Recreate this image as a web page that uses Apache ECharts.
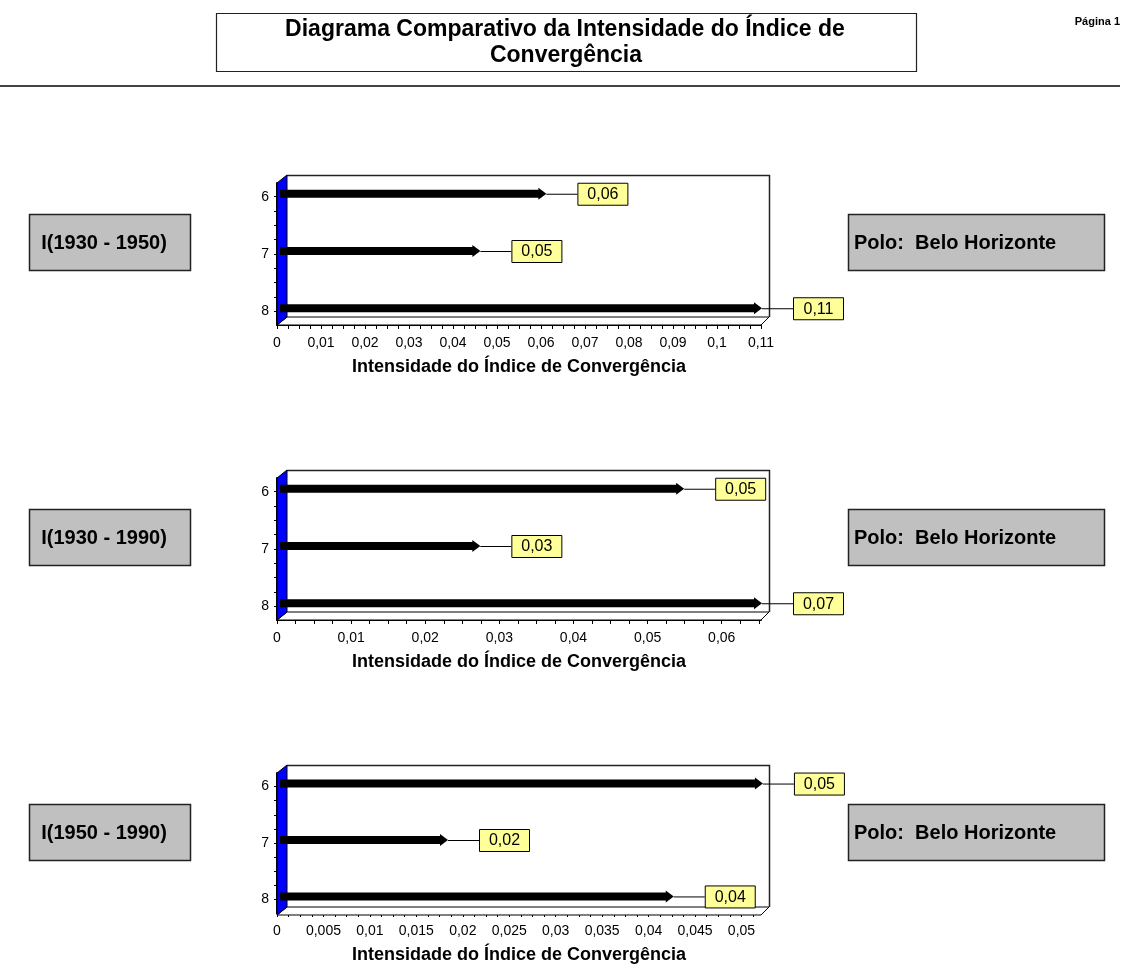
<!DOCTYPE html>
<html>
<head>
<meta charset="utf-8">
<script src="https://cdn.jsdelivr.net/npm/echarts@6/dist/echarts.min.js"></script>
<style>
html,body{margin:0;padding:0;background:#fff;}
#main{width:1125px;height:965px;}
</style>
</head>
<body>
<div id="main"></div>
<script>
// ---------------- data ----------------
const titleLines = ['Diagrama Comparativo da Intensidade do Índice de', 'Convergência'];
const pageLabel = 'Página 1';
const categories = [6, 7, 8];
const periods = ['I(1930 - 1950)', 'I(1930 - 1990)', 'I(1950 - 1990)'];
const poloLabel = 'Polo:  Belo Horizonte';
const axisName = 'Intensidade do Índice de Convergência';
const values1 = [0.061, 0.046, 0.110];
const values2 = [0.0548, 0.0273, 0.0653];
const values3 = [0.0522, 0.0183, 0.0426];
const xTicks1 = [0, 0.01, 0.02, 0.03, 0.04, 0.05, 0.06, 0.07, 0.08, 0.09, 0.1, 0.11];
const xTicks2 = [0, 0.01, 0.02, 0.03, 0.04, 0.05, 0.06];
const xTicks3 = [0, 0.005, 0.01, 0.015, 0.02, 0.025, 0.03, 0.035, 0.04, 0.045, 0.05];
const xMaxes = [0.11, 0.0653, 0.0521];

// ---------------- layout ----------------
const FONT = '"Liberation Sans", Arial, sans-serif';
const L = 277, R = 761, H = 142;
const tops = [183, 478, 773];
const valueSets = [values1, values2, values3];
const tickSets = [xTicks1, xTicks2, xTicks3];

function fmt(v) {
  return String(+v.toFixed(3)).replace('.', ',');
}
function fmt2(v) {
  return v.toFixed(2).replace('.', ',');
}
function minorTicks(majors, max) {
  const step = majors[1] - majors[0];
  const out = [];
  for (let k = 0; k * step / 4 <= max + 1e-9; k++) out.push(+(k * step / 4).toFixed(6));
  return out;
}
const yTickVals = [];
for (let k = 0; k <= 8; k++) yTickVals.push(6 + k * 0.25);

const grids = [], xAxes = [], yAxes = [], series = [], graphics = [];

tops.forEach((T, i) => {
  const B = T + H;
  grids.push({left: L, top: T, width: R - L, height: H, containLabel: false});
  xAxes.push({
    type: 'value', gridIndex: i, min: 0, max: xMaxes[i],
    name: axisName, nameLocation: 'middle', nameGap: 33,
    nameTextStyle: {fontFamily: FONT, fontWeight: 'bold', fontSize: 18, color: '#000'},
    axisLine: {show: true, lineStyle: {color: '#000', width: 2}},
    axisTick: {show: true, length: 4, lineStyle: {color: '#000', width: 1}, customValues: minorTicks(tickSets[i], xMaxes[i])},
    axisLabel: {show: true, customValues: tickSets[i], formatter: fmt, margin: 11, fontFamily: FONT, fontSize: 14, color: '#000'},
    splitLine: {show: false}
  });
  yAxes.push({
    type: 'value', gridIndex: i, inverse: true, min: 5.76, max: 8.24,
    axisLine: {show: true, lineStyle: {color: '#000', width: 2}},
    axisTick: {show: true, length: 3, lineStyle: {color: '#000', width: 1}, customValues: yTickVals},
    axisLabel: {show: true, customValues: categories, formatter: v => String(v), margin: 8, fontFamily: FONT, fontSize: 14, color: '#000'},
    splitLine: {show: false}
  });
  series.push({
    type: 'custom', xAxisIndex: i, yAxisIndex: i, clip: false, z: 5,
    data: valueSets[i].map((v, j) => [v, categories[j]]),
    renderItem: function (params, api) {
      const v = api.value(0), c = api.value(1);
      const p0 = api.coord([0, c]);
      const p1 = api.coord([v, c]);
      const y = p0[1] - 3;
      const x0 = p0[0] + 3, x1 = p1[0] + 1;
      return {
        type: 'group',
        children: [
          {type: 'rect', shape: {x: x0, y: y - 4, width: x1 - 7 - x0, height: 8}, style: {fill: '#000'}},
          {type: 'polygon', shape: {points: [[x1 - 8, y - 6], [x1, y], [x1 - 8, y + 6]]}, style: {fill: '#000'}},
          {type: 'line', shape: {x1: x1, y1: y + 0.5, x2: x1 + 31, y2: y + 0.5}, style: {stroke: '#000', lineWidth: 1}},
          {type: 'rect', shape: {x: x1 + 31.5, y: y - 10.5, width: 50, height: 22}, style: {fill: '#ffff99', stroke: '#000', lineWidth: 1}},
          {type: 'text', style: {text: fmt2(v), x: x1 + 56.5, y: y + 1, align: 'center', verticalAlign: 'middle', font: '16px ' + FONT, fill: '#000'}}
        ]
      };
    }
  });

  // 3D frame pieces
  graphics.push({type: 'polygon', z: 1, shape: {points: [[L, B], [R, B], [R + 8, B - 8], [L + 10, B - 8]]}, style: {fill: '#fff', stroke: '#000', lineWidth: 1}});
  graphics.push({type: 'polyline', z: 1, shape: {points: [[L + 10, T - 7.5], [R + 8.5, T - 7.5], [R + 8.5, B - 8]]}, style: {fill: null, stroke: '#222', lineWidth: 1.5}});
  graphics.push({type: 'polygon', z: 2, shape: {points: [[L, T], [L + 10, T - 8], [L + 10, B - 8], [L, B]]}, style: {fill: '#0000ff', stroke: '#000', lineWidth: 1}});

  // side boxes
  const by = T + 31;
  graphics.push({type: 'rect', z: 10, shape: {x: 29.5, y: by + 0.5, width: 161, height: 56}, style: {fill: '#c0c0c0', stroke: '#222', lineWidth: 1.5}});
  graphics.push({type: 'text', z: 11, style: {text: periods[i], x: 104, y: by + 29, align: 'center', verticalAlign: 'middle', font: 'bold 20px ' + FONT, fill: '#000'}});
  graphics.push({type: 'rect', z: 10, shape: {x: 848.5, y: by + 0.5, width: 256, height: 56}, style: {fill: '#c0c0c0', stroke: '#222', lineWidth: 1.5}});
  graphics.push({type: 'text', z: 11, style: {text: poloLabel, x: 854, y: by + 29, align: 'left', verticalAlign: 'middle', font: 'bold 20px ' + FONT, fill: '#000'}});
});

// title
graphics.push({type: 'rect', z: 10, shape: {x: 216.5, y: 13.5, width: 700, height: 58}, style: {fill: '#fff', stroke: '#222', lineWidth: 1.2}});
graphics.push({type: 'text', z: 11, style: {text: titleLines[0], x: 565, y: 30, align: 'center', verticalAlign: 'middle', font: 'bold 23px ' + FONT, fill: '#000'}});
graphics.push({type: 'text', z: 11, style: {text: titleLines[1], x: 566, y: 56, align: 'center', verticalAlign: 'middle', font: 'bold 23px ' + FONT, fill: '#000'}});
graphics.push({type: 'text', z: 11, style: {text: pageLabel, x: 1120, y: 22, align: 'right', verticalAlign: 'middle', font: 'bold 11px ' + FONT, fill: '#000'}});
graphics.push({type: 'line', z: 10, shape: {x1: 0, y1: 86, x2: 1120, y2: 86}, style: {stroke: '#444', lineWidth: 2}});

const chart = echarts.init(document.getElementById('main'), null, {renderer: 'canvas'});
chart.setOption({
  backgroundColor: '#fff',
  animation: false,
  grid: grids,
  xAxis: xAxes,
  yAxis: yAxes,
  series: series,
  graphic: {elements: graphics}
});
</script>
</body>
</html>
